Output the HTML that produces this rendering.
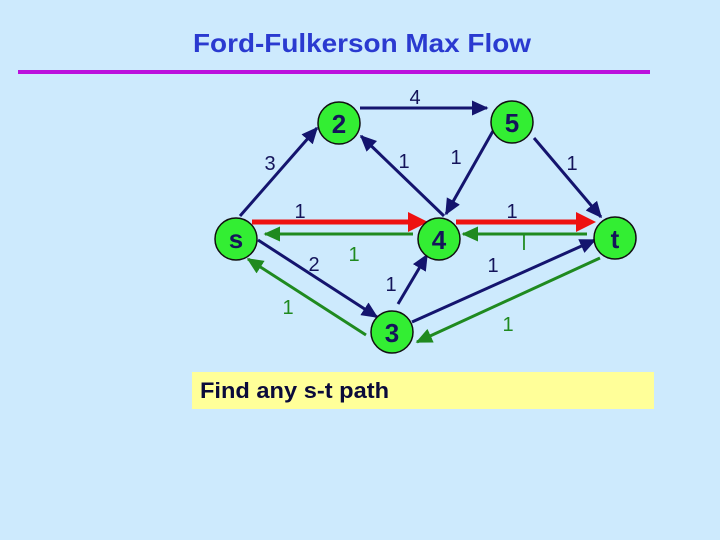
<!DOCTYPE html>
<html><head><meta charset="utf-8"><style>
html,body{margin:0;padding:0}
body{width:720px;height:540px;background:#cdeafd;position:relative;overflow:hidden;font-family:"Liberation Sans",Arial,sans-serif}
</style></head><body>
<svg width="720" height="540" style="position:absolute;left:0;top:0" font-family="Liberation Sans, Arial, sans-serif">
<defs>
<marker id="an" markerWidth="6" markerHeight="6" refX="5" refY="3" orient="auto" markerUnits="strokeWidth"><path d="M0,0.5 L5.5,3 L0,5.5 z" fill="#14146e"/></marker>
<marker id="ag" markerWidth="6" markerHeight="6" refX="5" refY="3" orient="auto" markerUnits="strokeWidth"><path d="M0,0.5 L5.5,3 L0,5.5 z" fill="#1f8a1f"/></marker>
<marker id="ar" markerWidth="4" markerHeight="4" refX="3" refY="2" orient="auto" markerUnits="strokeWidth"><path d="M0,0 L4,2 L0,4 z" fill="#ee1111"/></marker>
</defs>
<text x="193" y="52" font-size="26" font-weight="bold" fill="#2a3ad0" textLength="338" lengthAdjust="spacingAndGlyphs">Ford-Fulkerson Max Flow</text>
<rect x="18" y="70" width="632" height="4" fill="#bb11dd"/>
<rect x="192" y="372" width="462" height="37" fill="#ffff99"/>
<text x="200" y="398" font-size="22" font-weight="bold" fill="#0a0a3a" textLength="189" lengthAdjust="spacingAndGlyphs">Find any s-t path</text>
<g stroke="#14146e" stroke-width="3" fill="none" marker-end="url(#an)">
<line x1="240" y1="216" x2="317" y2="128"/>
<line x1="360" y1="108" x2="487" y2="108"/>
<line x1="444" y1="216" x2="361" y2="136"/>
<line x1="493" y1="131" x2="446" y2="214"/>
<line x1="534" y1="138" x2="601" y2="217"/>
<line x1="258" y1="240" x2="377" y2="317"/>
<line x1="398" y1="304" x2="427" y2="255"/>
<line x1="412" y1="322" x2="595" y2="240"/>
</g>
<g stroke="#1f8a1f" stroke-width="3" fill="none" marker-end="url(#ag)">
<line x1="413" y1="234" x2="265" y2="234"/>
<line x1="587" y1="234" x2="463" y2="234"/>
<line x1="366" y1="335" x2="248" y2="259"/>
<line x1="600" y1="258" x2="417" y2="342"/>
</g>
<g stroke="#ee1111" stroke-width="5" fill="none" marker-end="url(#ar)">
<line x1="252" y1="222" x2="423" y2="222"/>
<line x1="456" y1="222" x2="591" y2="222"/>
</g>
<g fill="#33ee33" stroke="#111" stroke-width="1.5">
<circle cx="236" cy="239" r="21"/>
<circle cx="339" cy="123" r="21"/>
<circle cx="512" cy="122" r="21"/>
<circle cx="439" cy="239" r="21"/>
<circle cx="615" cy="238" r="21"/>
<circle cx="392" cy="332" r="21"/>
</g>
<g font-size="26" font-weight="bold" fill="#14145a" text-anchor="middle">
<text x="236" y="248">s</text>
<text x="339" y="133">2</text>
<text x="512" y="132">5</text>
<text x="439" y="249">4</text>
<text x="615" y="248">t</text>
<text x="392" y="342">3</text>
</g>
<g font-size="20" fill="#14145a" text-anchor="middle">
<text x="415" y="104">4</text>
<text x="270" y="170">3</text>
<text x="404" y="168">1</text>
<text x="456" y="164">1</text>
<text x="572" y="170">1</text>
<text x="300" y="218">1</text>
<text x="512" y="218">1</text>
<text x="314" y="271">2</text>
<text x="391" y="291">1</text>
<text x="493" y="272">1</text>
</g>
<g font-size="20" fill="#1f8a1f" text-anchor="middle">
<text x="354" y="261">1</text>
<text x="524" y="250">l</text>
<text x="288" y="314">1</text>
<text x="508" y="331">1</text>
</g>
</svg>
</body></html>
